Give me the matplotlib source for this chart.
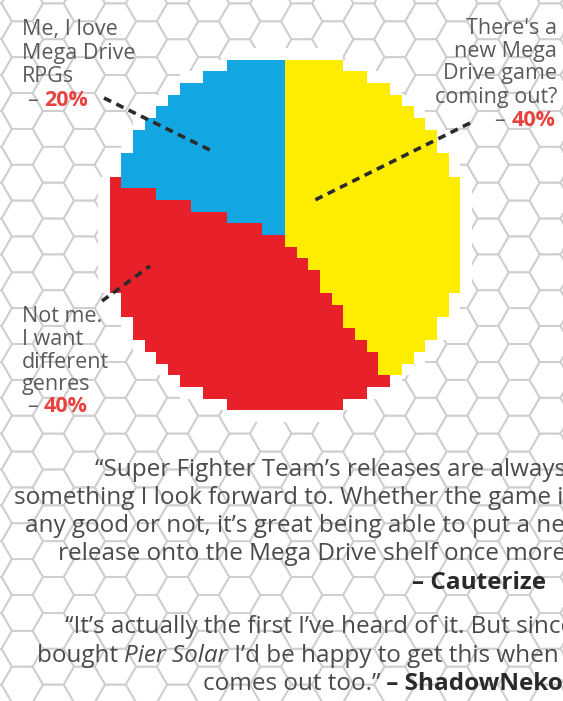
import numpy as np
import matplotlib
matplotlib.use('Agg')
import matplotlib.pyplot as plt
from matplotlib.collections import PolyCollection

# poll results (percent)
answers = ["There's a new Mega Drive game coming out?",
           "Not me. I want different genres",
           "Me, I love Mega Drive RPGs"]
shares = [40, 40, 20]
slice_colors = ['#ffed00', '#e8202a', '#12a6e2']

label_lines = [
    ["There's a", "new Mega", "Drive game", "coming out?"],
    ["Not me.", "I want", "different", "genres"],
    ["Me, I love", "Mega Drive", "RPGs"],
]

quote1 = ["\u201cSuper Fighter Team\u2019s releases are always",
          "something I look forward to. Whether the game is",
          "any good or not, it\u2019s great being able to put a new",
          "release onto the Mega Drive shelf once more."]
quote1_by = "\u2013 Cauterize"
quote2 = ["\u201cIt\u2019s actually the first I\u2019ve heard of it. But since I",
          "bought ", "Pier Solar", " I\u2019d be happy to get this when it",
          "comes out too.\u201d"]
quote2_by = "\u2013 ShadowNeko"

W, H = 563, 701
plt.rcParams['font.family'] = ['Open Sans', 'DejaVu Sans']
fig = plt.figure(figsize=(W / 100, H / 100), dpi=100)
ax = fig.add_axes([0, 0, 1, 1])
ax.set_xlim(0, W)
ax.set_ylim(H, 0)
ax.axis('off')

# hexagon background (flat top)
R = 20.7
hh = np.sqrt(3) * R
ang = np.radians(np.arange(0, 360, 60))
polys = []
for k in range(-17, 5):
    cx = 488 + k * 1.5 * R
    off = 0 if k % 2 == 0 else -hh / 2
    for r in range(-11, 12):
        cy = 344 + r * hh + off
        polys.append(np.column_stack([cx + R * np.cos(ang), cy + R * np.sin(ang)]))
ax.add_collection(PolyCollection(polys, facecolors='none', edgecolors='#cfcfcf',
                                 linewidths=1.3, zorder=0))

# pixelated pie
pcx, pcy, prad = 285, 235, 175
ncell = 30
cell = 2 * prad / ncell
n = ncell + 2
xs = pcx - prad - cell + (np.arange(n) + 0.5) * cell
ys = pcy - prad - cell + (np.arange(n) + 0.5) * cell
gx, gy = np.meshgrid(xs, ys)
dist = np.hypot(gx - pcx, gy - pcy) / cell
theta = np.degrees(np.arctan2(gx - pcx, -(gy - pcy))) % 360
bounds = np.cumsum(shares) / np.sum(shares) * 360

img = np.zeros((n, n, 4))
img[dist <= 16.2] = [1, 1, 1, 1]
inside = dist <= 15.25
start = 0
for end, col in zip(bounds, slice_colors):
    m = inside & (theta >= start) & (theta < end)
    img[m] = matplotlib.colors.to_rgba(col)
    start = end
ax.imshow(img, extent=(pcx - prad - cell, pcx + prad + cell,
                       pcy + prad + cell, pcy - prad - cell),
          origin='upper', interpolation='nearest', aspect='auto', zorder=1)
ax.set_xlim(0, W)
ax.set_ylim(H, 0)

# leader lines
dash = dict(color='#2b2b2b', lw=2.6, linestyle=(0, (2.2, 1.6)), zorder=3,
            dash_capstyle='butt')
ax.plot([470, 315], [123, 200], **dash)
ax.plot([104, 210], [98, 150], **dash)
ax.plot([102, 150], [301, 266], **dash)

grey = '#5a5a5a'
red = '#e8423f'
fs = 15.5
lh = 23


def pct_label(x, y, value, ha):
    p = ax.text(x, y, f'{value}%', ha=ha, va='center', fontsize=fs,
                color=red, fontweight='bold')
    ax.annotate('\u2013 ', xy=(0, 0.5), xycoords=p, ha='right', va='center',
                fontsize=fs, color=grey)


# labels
for i, t in enumerate(label_lines[0]):
    ax.text(557, 28 + i * lh, t, ha='right', va='center', fontsize=fs, color=grey)
pct_label(555, 120, shares[0], 'right')

for i, t in enumerate(label_lines[2]):
    ax.text(22, 30 + i * lh, t, ha='left', va='center', fontsize=fs, color=grey)
pct_label(44, 101, shares[2], 'left')

for i, t in enumerate(label_lines[1]):
    ax.text(22, 317 + i * 22.5, t, ha='left', va='center', fontsize=fs, color=grey)
pct_label(44, 407, shares[1], 'left')

# reader quotes
qfs = 17.5
qc = '#4a4a4a'
qx = [95, 14, 25, 58]
for i, t in enumerate(quote1):
    ax.text(qx[i], 470 + i * 28, t, ha='left', va='center', fontsize=qfs, color=qc)
ax.text(412, 583, quote1_by, ha='left', va='center', fontsize=qfs, color='#2a2a2a',
        fontweight='bold')

ax.text(65, 627, quote2[0], ha='left', va='center', fontsize=qfs, color=qc)
prev = ax.text(37, 656, quote2[1], ha='left', va='center', fontsize=qfs, color=qc)
prev = ax.annotate(quote2[2], xy=(1, 0.5), xycoords=prev, ha='left', va='center',
                   fontsize=qfs, color=qc, style='italic')
ax.annotate(quote2[3], xy=(1, 0.5), xycoords=prev, ha='left', va='center',
            fontsize=qfs, color=qc)
prev = ax.text(203, 684, quote2[4], ha='left', va='center', fontsize=qfs, color=qc)
ax.annotate(' ' + quote2_by, xy=(1, 0.5), xycoords=prev, ha='left', va='center',
            fontsize=qfs, color='#2a2a2a', fontweight='bold')

fig.savefig('out.png', dpi=100)
